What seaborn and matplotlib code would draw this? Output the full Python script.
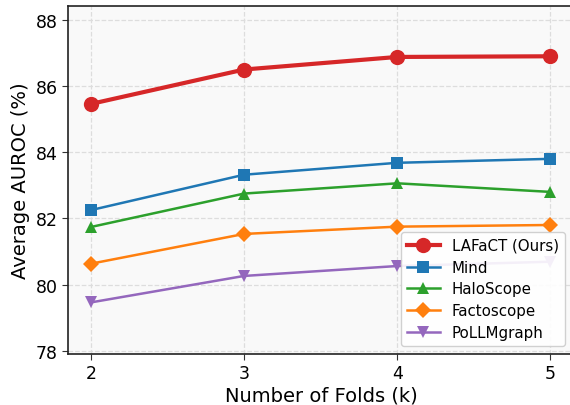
import matplotlib
matplotlib.use("Agg")
import matplotlib.pyplot as plt
import seaborn as sns
import pandas as pd

folds = [2, 3, 4, 5]
lafact = [85.46, 86.50, 86.88, 86.90]
mind = [82.25, 83.32, 83.68, 83.80]
haloscope = [81.74, 82.75, 83.06, 82.80]
factoscope = [80.63, 81.53, 81.75, 81.80]
pollmgraph = [79.46, 80.26, 80.56, 80.69]

series = [
    ("LAFaCT (Ours)", lafact, "#d62728", "o", 3.0, 11),
    ("Mind", mind, "#1f77b4", "s", 1.8, 8),
    ("HaloScope", haloscope, "#2ca02c", "^", 1.8, 8),
    ("Factoscope", factoscope, "#ff7f0e", "D", 1.8, 8),
    ("PoLLMgraph", pollmgraph, "#9467bd", "v", 1.8, 8),
]

fig = plt.figure(figsize=(5.7, 4.06), dpi=100)
ax = fig.add_axes([68/570, 51/406, 507/570, 348/406])
ax.set_facecolor("#f9f9f9")

for name, vals, color, marker, lw, ms in series:
    df = pd.DataFrame({"k": folds, "v": vals})
    sns.lineplot(data=df, x="k", y="v", ax=ax, color=color, marker=marker,
                 linewidth=lw, markersize=ms, markeredgewidth=0, label=name)

ax.set_xlim(1.85, 5.16)
ax.set_ylim(77.9, 88.42)
ax.set_xticks(folds)
ax.set_yticks([78, 80, 82, 84, 86, 88])
ax.tick_params(labelsize=12.5, length=4, color="#333333")
ax.grid(True, linestyle="--", color="#dddddd", linewidth=0.9)
ax.set_axisbelow(True)
ax.set_xlabel("Number of Folds (k)", fontsize=14, labelpad=2)
ax.set_ylabel("Average AUROC (%)", fontsize=14)
for sp in ax.spines.values():
    sp.set_color("#222222")
    sp.set_linewidth(1.2)
leg = ax.legend(loc="lower right", fontsize=10.8, framealpha=0.9, edgecolor="#cccccc",
                borderpad=0.4, labelspacing=0.45, handlelength=2.2,
                borderaxespad=0, bbox_to_anchor=(1 - 10/507, 8/348))
fig.savefig("out.png", dpi=100)
